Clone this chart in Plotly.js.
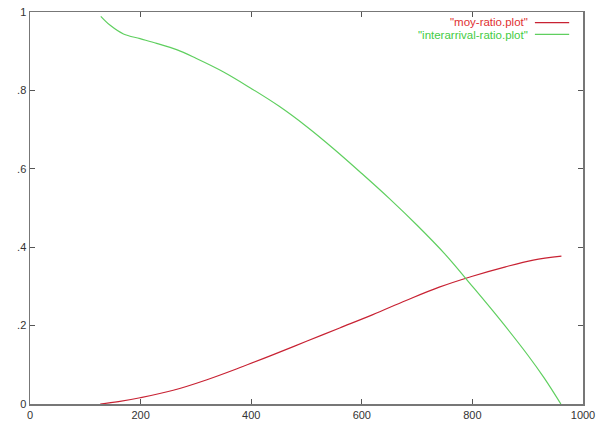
<!DOCTYPE html>
<html>
<head>
<meta charset="utf-8">
<script src="https://cdn.plot.ly/plotly-3.0.1.min.js"></script>
<style>html,body{margin:0;padding:0;background:#fff;}#chart{width:603px;height:422px;}</style>
</head>
<body>
<div id="chart"></div>
<script>
// Data
var seriesNames = ['"moy-ratio.plot"', '"interarrival-ratio.plot"'];
var moyX = [127, 160, 199, 259, 320, 380, 440, 500, 560, 620, 680, 740, 800, 860, 910, 961];
var moyY = [0, 0.006, 0.016, 0.035, 0.062, 0.093, 0.126, 0.160, 0.194, 0.228, 0.264, 0.298, 0.326, 0.350, 0.367, 0.377];
var interX = [128, 145, 169, 199, 229, 265, 300, 350, 400, 450, 500, 550, 600, 650, 700, 750, 800, 850, 900, 930, 960];
var interY = [0.989, 0.966, 0.944, 0.932, 0.920, 0.904, 0.882, 0.847, 0.805, 0.760, 0.708, 0.650, 0.588, 0.524, 0.456, 0.383, 0.300, 0.215, 0.125, 0.066, 0.0];
var xTickVals = [0, 200, 400, 600, 800, 1000];
var xTickText = ['0', '200', '400', '600', '800', '1000'];
var yTickVals = [0, 0.2, 0.4, 0.6, 0.8, 1];
var yTickText = ['0', '.2', '.4', '.6', '.8', '1'];

var red = '#c82233', green = '#5fcf5f';
var traces = [
  {x: moyX, y: moyY, name: seriesNames[0], mode: 'lines', line: {color: red, width: 1.2, shape: 'spline'}},
  {x: interX, y: interY, name: seriesNames[1], mode: 'lines', line: {color: green, width: 1.2, shape: 'spline'}}
];
var axisCommon = {
  showgrid: false, zeroline: false, showline: true, mirror: 'ticks',
  linecolor: '#777', linewidth: 1.5, ticks: 'inside', ticklen: 5, tickcolor: '#555', tickwidth: 1,
  tickfont: {family: 'Liberation Sans, Arial, sans-serif', size: 11, color: '#333'}
};
var legFont = 'Liberation Sans, Arial, sans-serif';
var layout = {
  width: 603, height: 422,
  margin: {l: 30, r: 20, t: 12, b: 18},
  paper_bgcolor: '#fff', plot_bgcolor: '#fff',
  showlegend: false,
  xaxis: Object.assign({}, axisCommon, {range: [0, 1000], tickmode: 'array', tickvals: xTickVals, ticktext: xTickText}),
  yaxis: Object.assign({}, axisCommon, {range: [0, 1], tickmode: 'array', tickvals: yTickVals, ticktext: yTickText}),
  annotations: [
    {xref: 'paper', yref: 'paper', x: 0.902, y: 0.975, xanchor: 'right', yanchor: 'middle', showarrow: false, borderpad: 0,
     text: seriesNames[0], font: {family: legFont, size: 11.5, color: '#e03030'}},
    {xref: 'paper', yref: 'paper', x: 0.902, y: 0.941, xanchor: 'right', yanchor: 'middle', showarrow: false, borderpad: 0,
     text: seriesNames[1], font: {family: legFont, size: 11.5, color: '#44cc44'}}
  ],
  shapes: [
    {type: 'line', xref: 'paper', yref: 'paper', x0: 0.913, x1: 0.975, y0: 0.973, y1: 0.973, line: {color: red, width: 1.2}},
    {type: 'line', xref: 'paper', yref: 'paper', x0: 0.913, x1: 0.975, y0: 0.943, y1: 0.943, line: {color: green, width: 1.2}}
  ]
};
Plotly.newPlot('chart', traces, layout, {staticPlot: true, displayModeBar: false});
</script>
</body>
</html>
